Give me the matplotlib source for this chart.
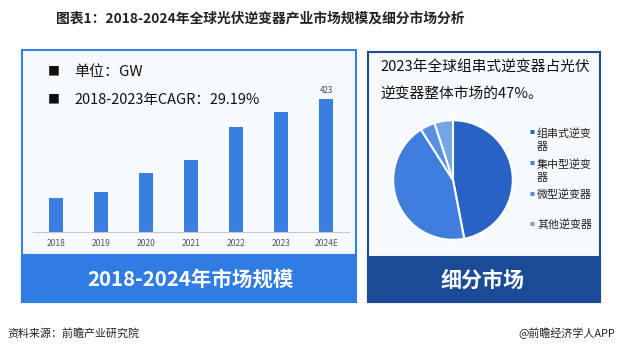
import numpy as np
import matplotlib
matplotlib.use("Agg")
import matplotlib.pyplot as plt
from matplotlib.patches import Rectangle

plt.rcParams['font.family'] = ['Noto Sans CJK SC', 'DejaVu Sans']

years = ["2018", "2019", "2020", "2021", "2022", "2023", "2024E"]
capacity = [108, 127, 188, 229, 334, 381, 423]

seg_names = ["组串式逆变\n器", "集中型逆变\n器", "微型逆变器", "其他逆变器"]
seg_share = [47, 44, 4, 5]
seg_colors = ["#2663C4", "#3F7EDB", "#5790DF", "#74A5E8"]

W, H = 620, 352
fig = plt.figure(figsize=(W / 100, H / 100), dpi=100)
fig.patch.set_facecolor("white")


def rect(x, y, w, h):
    # pixel box (top-left origin) -> figure fraction
    return [x / W, 1 - (y + h) / H, w / W, h / H]


def fx(x):
    return x / W


def fy(y):
    return 1 - y / H


def pt(px):
    return px * 72 / 100


# title
fig.text(fx(260), fy(19), "图表1：2018-2024年全球光伏逆变器产业市场规模及细分市场分析",
         ha="center", va="center", fontsize=pt(13.8), fontweight="bold", color="#222222")

# panel frames
fig.patches.append(Rectangle((fx(22), fy(302)), fx(334), fy(50) - fy(302), transform=fig.transFigure,
                             facecolor="#F7FAFD", edgecolor="#3A80E3", linewidth=1.5, zorder=0))
fig.patches.append(Rectangle((fx(22), fy(302)), fx(334), fy(255) - fy(302), transform=fig.transFigure,
                             facecolor="#307BE4", edgecolor="#307BE4", linewidth=1.5, zorder=0))
fig.patches.append(Rectangle((fx(368), fy(302)), fx(232), fy(52) - fy(302), transform=fig.transFigure,
                             facecolor="#F7FAFD", edgecolor="#1B4B96", linewidth=1.5, zorder=0))
fig.patches.append(Rectangle((fx(368), fy(302)), fx(232), fy(257) - fy(302), transform=fig.transFigure,
                             facecolor="#1B4B96", edgecolor="#1B4B96", linewidth=1.5, zorder=0))

# bar chart
ax = fig.add_axes(rect(33, 60, 316, 172))
ax.set_zorder(3)
ax.set_facecolor("none")
x = np.arange(len(years))
ax.bar(x, capacity, width=0.31, color="#3A7EDF")
ax.set_xlim(-0.5, len(years) - 0.5)
ax.set_ylim(0, 547)
ax.text(x[-1], capacity[-1] + 12, str(capacity[-1]), ha="center", va="bottom",
        fontsize=pt(8), color="#444444")
ax.set_xticks(x)
ax.set_xticklabels(years, fontsize=pt(8.5), color="#555555")
ax.tick_params(axis="x", length=0, pad=5)
ax.set_yticks([])
for s in ["top", "left", "right"]:
    ax.spines[s].set_visible(False)
ax.spines["bottom"].set_color("#C8C8C8")

fig.text(fx(48), fy(72), "■", ha="left", va="center", fontsize=pt(12), color="#111111")
fig.text(fx(74), fy(72), "单位：GW", ha="left", va="center", fontsize=pt(15),
         fontweight="medium", color="#111111")
fig.text(fx(48), fy(100), "■", ha="left", va="center", fontsize=pt(12), color="#111111")
fig.text(fx(74), fy(100), "2018-2023年CAGR：29.19%", ha="left", va="center",
         fontsize=pt(14.5), fontweight="medium", color="#111111")

fig.text(fx(190), fy(279), "2018-2024年市场规模", ha="center", va="center",
         fontsize=pt(20.5), fontweight="bold", color="white")

# pie
pax = fig.add_axes(rect(392, 119, 122, 122))
pax.set_zorder(3)
pax.pie(seg_share, colors=seg_colors, startangle=90, counterclock=False,
        wedgeprops=dict(edgecolor="white", linewidth=1.5))
pax.set_xlim(-1.02, 1.02)
pax.set_ylim(-1.02, 1.02)
pax.set_aspect("equal")

fig.text(fx(380), fy(68), "2023年全球组串式逆变器占光伏", ha="left", va="center",
         fontsize=pt(14.7), fontweight="medium", color="#111111")
fig.text(fx(380), fy(94), "逆变器整体市场的47%。", ha="left", va="center",
         fontsize=pt(14.7), fontweight="medium", color="#111111")

leg_y = [140, 171, 194, 224]
for name, c, yy in zip(seg_names, seg_colors, leg_y):
    top = yy - 8 if "\n" in name else yy
    fig.text(fx(532), fy(top), "■", ha="center", va="center", fontsize=pt(5), color=c)
    fig.text(fx(537), fy(yy), name, ha="left", va="center", fontsize=pt(11),
             color="#222222", linespacing=1.35)

fig.text(fx(483), fy(280), "细分市场", ha="center", va="center",
         fontsize=pt(21), fontweight="bold", color="white")

# footer
fig.text(fx(7), fy(333), "资料来源：前瞻产业研究院", ha="left", va="center",
         fontsize=pt(11), color="#222222")
fig.text(fx(615), fy(333), "@前瞻经济学人APP", ha="right", va="center",
         fontsize=pt(11), color="#222222")

fig.savefig("out.png", dpi=100, facecolor="white")
